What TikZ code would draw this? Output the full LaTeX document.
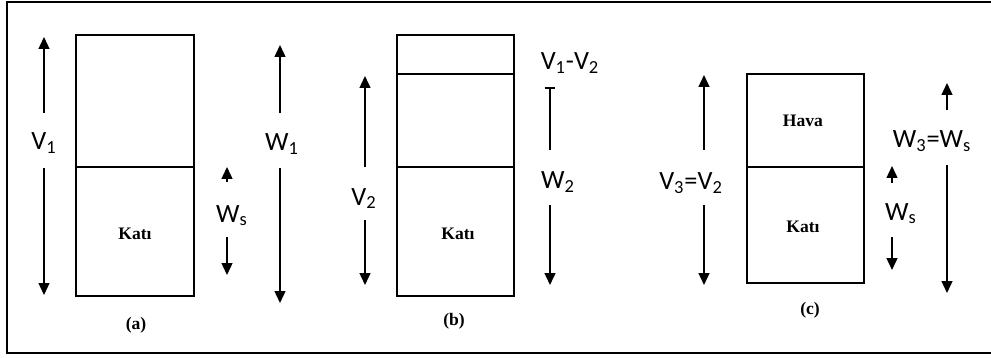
\documentclass[tikz,border=0pt]{standalone}
\usepackage{fontspec}
\setmainfont{Liberation Serif}
\newfontfamily\qtyfont{Carlito}
\usetikzlibrary{arrows.meta}

\tikzset{
  box/.style={line width=1.1pt},
  dim/.style={line width=0.9pt, -{Triangle[width=6.2pt,length=6.8pt]}},
  tbar/.style={line width=0.9pt, {Bar[width=6pt]}-},
  qty/.style={font=\qtyfont\fontsize{15}{18}\selectfont, inner sep=0pt, anchor=base},
  phase/.style={font=\bfseries\fontsize{10}{12}\selectfont, inner sep=0pt, anchor=base},
  capt/.style={font=\bfseries\fontsize{10}{12}\selectfont, inner sep=0pt, anchor=base}
}

\begin{document}
\begin{tikzpicture}[x=0.02cm, y=-0.02cm]
\useasboundingbox (0,0) rectangle (991,358);
% frame
\draw[line width=1.7pt] (991,2) -- (7,2) -- (7,353) -- (991,353);

% (a)
\draw[box] (76,35) rectangle (194,296);
\draw[box] (76,167) -- (194,167);
\node[phase] (katiA) at (135,239) {Katı};
\node[capt] (capA) at (136,329) {(a)};
\node[qty] (V1) at (44,150) {V\textsubscript{1}};
\coordinate (V1t) at (44,37);
\coordinate (V1b) at (44,295);
\draw[dim] (V1.base) ++(0,-37) -- (V1t);
\draw[dim] (V1.base) ++(0,18) -- (V1b);
\node[qty] (W1) at (282,151) {W\textsubscript{1}};
\coordinate (W1t) at (280,45);
\coordinate (W1b) at (280,303);
\draw[dim] (W1.base) ++(-2,-38) -- (W1t);
\draw[dim] (W1.base) ++(-2,17) -- (W1b);
\node[qty] (WsA) at (232,222) {W\textsubscript{s}};
\coordinate (WsAt) at (227,167);
\coordinate (WsAb) at (227,275);
\draw[dim] (WsA.base) ++(-5,-40) -- (WsAt);
\draw[dim] (WsA.base) ++(-5,15) -- (WsAb);

% (b)
\draw[box] (397,35) rectangle (514,296);
\draw[box] (397,74) -- (514,74);
\draw[box] (397,167) -- (514,167);
\node[phase] (katiB) at (458,239) {Katı};
\node[capt] (capB) at (454,325) {(b)};
\node[qty] (V2) at (364,205) {V\textsubscript{2}};
\coordinate (V2t) at (365,76);
\coordinate (V2b) at (365,285);
\draw[dim] (V2.base) ++(1,-38) -- (V2t);
\draw[dim] (V2.base) ++(1,15) -- (V2b);
\node[qty] (V12) at (570,70) {V\textsubscript{1}-V\textsubscript{2}};
\node[qty] (W2) at (558,189) {W\textsubscript{2}};
\coordinate (W2t) at (550,87);
\coordinate (W2b) at (550,285);
\draw[tbar] (W2t) -- ([xshift=-8*0.02cm,yshift=39*0.02cm]W2.base);
\draw[dim] (W2.base) ++(-8,16) -- (W2b);

% (c)
\draw[box] (747,74) rectangle (864,283);
\draw[box] (747,167) -- (864,167);
\node[phase] (hava) at (803,127) {Hava};
\node[phase] (katiC) at (803,233) {Katı};
\node[capt] (capC) at (810,314) {(c)};
\node[qty] (V3) at (691,190) {V\textsubscript{3}=V\textsubscript{2}};
\coordinate (V3t) at (704,75);
\coordinate (V3b) at (704,285);
\draw[dim] (V3.base) ++(13,-40) -- (V3t);
\draw[dim] (V3.base) ++(13,15) -- (V3b);
\node[qty] (WsC) at (901,220) {W\textsubscript{s}};
\coordinate (WsCt) at (892,166);
\coordinate (WsCb) at (892,270);
\draw[dim] (WsC.base) ++(-9,-37) -- (WsCt);
\draw[dim] (WsC.base) ++(-9,17) -- (WsCb);
\node[qty] (W3) at (932,148) {W\textsubscript{3}=W\textsubscript{s}};
\coordinate (W3t) at (947,83);
\coordinate (W3b) at (947,293);
\draw[dim] (W3.base) ++(15,-38) -- (W3t);
\draw[dim] (W3.base) ++(15,17) -- (W3b);
\end{tikzpicture}
\end{document}
